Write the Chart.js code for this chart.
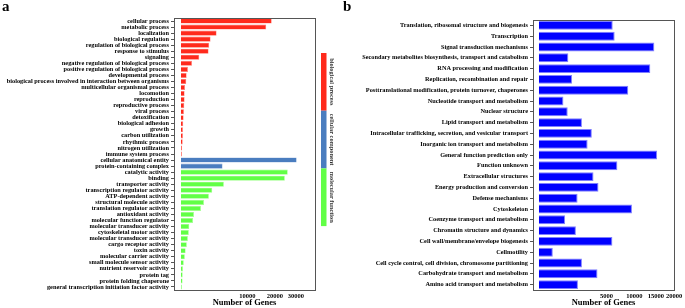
<!DOCTYPE html>
<html>
<head>
<meta charset="utf-8">
<script src="https://cdn.jsdelivr.net/npm/chart.js@4.4.1/dist/chart.umd.min.js"></script>
<style>
  html, body { margin: 0; padding: 0; background: #fff; overflow: hidden; }
  #wrap { position: relative; width: 685px; height: 308px; }
  .painel { position: absolute; top: 0; }
  .letra { position: absolute; font: bold 15px "Liberation Serif", serif; color: #000; }
</style>
</head>
<body>
<div id="wrap">
  <div class="painel" style="left:0;width:340px;height:308px"><canvas id="graficoGO" width="340" height="308"></canvas></div>
  <div class="painel" style="left:340px;width:345px;height:308px"><canvas id="graficoCOG" width="345" height="308"></canvas></div>
  <div class="letra" style="left:2px;top:-2px">a</div>
  <div class="letra" style="left:343px;top:-2px">b</div>
</div>
<script>
// --- dados do painel a (GO) ---
const bpLabels = ['cellular process', 'metabolic process', 'localization', 'biological regulation',
  'regulation of biological process', 'response to stimulus', 'signaling',
  'negative regulation of biological process', 'positive regulation of biological process',
  'developmental process', 'biological process involved in interaction between organisms',
  'multicellular organismal process', 'locomotion', 'reproduction', 'reproductive process',
  'viral process', 'detoxification', 'biological adhesion', 'growth', 'carbon utilization',
  'rhythmic process', 'nitrogen utilization', 'immune system process'];
const bpValues = [18700, 16500, 2880, 1990, 1810, 1730, 760, 275, 110, 73, 64, 36, 30, 30, 25, 20, 16, 12, 9, 9, 7, 3, 2];

const ccLabels = ['cellular anatomical entity', 'protein-containing complex'];
const ccValues = [30400, 3930];

const mfLabels = ['catalytic activity', 'binding', 'transporter activity', 'transcription regulator activity',
  'ATP-dependent activity', 'structural molecule activity', 'translation regulator activity',
  'antioxidant activity', 'molecular function regulator', 'molecular transducer activity',
  'cytoskeletal motor activity', 'molecular transducer activity', 'cargo receptor activity',
  'toxin activity', 'molecular carrier activity', 'small molecule sensor activity',
  'nutrient reservoir activity', 'protein tag', 'protein folding chaperone',
  'general transcription initiation factor activity'];
const mfValues = [25900, 24500, 4180, 2220, 1770, 1200, 905, 380, 326, 156, 140, 108, 78, 50, 34, 18, 9, 7, 6, 2];

const grupos = ['biological process', 'cellular component', 'molecular function'];
const coresGrupo = ['#ff2a1c', '#4a7dbf', '#62ff46'];
const bordasGrupo = ['#ff7a70', '#86a8d6', '#a0ff8c'];
const ticksGO = [10000, 20000, 30000];

// --- dados do painel b (COG) ---
const cogLabels = ['Translation, ribosomal structure and biogenesis', 'Transcription',
  'Signal transduction mechanisms', 'Secondary metabolites biosynthesis, transport and catabolism',
  'RNA processing and modification', 'Replication, recombination and repair',
  'Posttranslational modification, protein turnover, chaperones', 'Nucleotide transport and metabolism',
  'Nuclear structure', 'Lipid transport and metabolism',
  'Intracellular trafficking, secretion, and vesicular transport', 'Inorganic ion transport and metabolism',
  'General function prediction only', 'Function unknown', 'Extracellular structures',
  'Energy production and conversion', 'Defense mechanisms', 'Cytoskeleton',
  'Coenzyme transport and metabolism', 'Chromatin structure and dynamics',
  'Cell wall/membrane/envelope biogenesis', 'Cellmotility',
  'Cell cycle control, cell division, chromosome partitioning',
  'Carbohydrate transport and metabolism', 'Amino acid transport and metabolism'];
const cogValues = [5970, 6290, 14600, 950, 13600, 1200, 8750, 660, 910, 2030, 3070, 2600, 15300,
  6750, 3270, 3890, 1640, 9490, 750, 1500, 5920, 212, 2030, 3760, 1670];
const ticksCOG = [5000, 10000, 15000, 20000];

// escala raiz quadrada (o eixo x da figura original)
const raiz = v => Math.sign(v) * Math.sqrt(Math.abs(v));
class EscalaRaiz extends Chart.LinearScale {
  getPixelForValue(value) {
    const a = raiz(this.min), b = raiz(this.max);
    return this.getPixelForDecimal((raiz(value) - a) / (b - a));
  }
  getValueForPixel(pixel) {
    const a = raiz(this.min), b = raiz(this.max);
    const s = a + this.getDecimalForPixel(pixel) * (b - a);
    return Math.sign(s) * s * s;
  }
}
EscalaRaiz.id = 'raiz';
EscalaRaiz.defaults = Chart.LinearScale.defaults;
Chart.register(EscalaRaiz);

const fonte = 'Liberation Serif';
const corTexto = '#000';

// moldura em volta da área do gráfico
const moldura = {
  id: 'moldura',
  afterDraw(chart) {
    const { ctx, chartArea: c } = chart;
    ctx.save();
    ctx.strokeStyle = '#555';
    ctx.lineWidth = 1;
    ctx.strokeRect(Math.round(c.left) + 0.5, Math.round(c.top) + 0.5,
      Math.round(c.right - c.left), Math.round(c.bottom - c.top));
    ctx.restore();
  }
};

// barra de legenda vertical do painel a
const legendaGrupos = {
  id: 'legendaGrupos',
  afterDraw(chart) {
    const ctx = chart.ctx;
    const topo = 53, alt = 57.7;
    ctx.save();
    grupos.forEach((g, i) => {
      ctx.fillStyle = coresGrupo[i];
      ctx.fillRect(321, topo + i * alt, 5.5, alt);
      ctx.save();
      ctx.translate(332, topo + i * alt + alt / 2);
      ctx.rotate(Math.PI / 2);
      ctx.fillStyle = '#333';
      ctx.font = 'bold 6.3px "' + fonte + '"';
      ctx.textAlign = 'center';
      ctx.textBaseline = 'middle';
      ctx.fillText(g, 0, 0);
      ctx.restore();
    });
    ctx.restore();
  }
};

function opcoes(larguraY, padTop, padRight, xMin, xMax, xTicks) {
  return {
    indexAxis: 'y',
    responsive: false,
    animation: false,
    devicePixelRatio: 1,
    layout: { padding: { top: padTop, right: padRight, bottom: 0, left: 0 } },
    plugins: { legend: { display: false }, tooltip: { enabled: false } },
    scales: {
      x: {
        type: 'raiz',
        min: xMin,
        max: xMax,
        afterBuildTicks: s => { s.ticks = xTicks.map(v => ({ value: v })); },
        afterFit: s => { s.height = 18; },
        grid: { display: false, drawTicks: false },
        border: { display: false },
        ticks: {
          callback: v => String(v),
          font: { family: fonte, weight: 'bold', size: 6.5 },
          color: corTexto, padding: 2, maxRotation: 0, minRotation: 0, autoSkip: false
        },
        title: {
          display: true, text: 'Number of Genes',
          font: { family: fonte, weight: 'bold', size: 8.5 },
          color: corTexto, padding: 0
        }
      },
      y: {
        afterFit: s => { s.width = larguraY; },
        grid: { display: true, drawOnChartArea: false, drawTicks: true, tickLength: 3, color: '#555', offset: false },
        border: { display: false },
        ticks: {
          autoSkip: false,
          font: { family: fonte, weight: 'bold', size: 6.3 },
          color: corTexto, padding: 2
        }
      }
    }
  };
}

// painel a
const labelsGO = bpLabels.concat(ccLabels, mfLabels);
const valoresGO = bpValues.concat(ccValues, mfValues);
const grupoDe = bpLabels.map(() => 0).concat(ccLabels.map(() => 1), mfLabels.map(() => 2));

new Chart(document.getElementById('graficoGO').getContext('2d'), {
  type: 'bar',
  data: {
    labels: labelsGO,
    datasets: [{
      data: valoresGO,
      backgroundColor: grupoDe.map(g => coresGrupo[g]),
      borderColor: grupoDe.map(g => bordasGrupo[g]),
      borderWidth: 0.6,
      barPercentage: 0.84,
      categoryPercentage: 1
    }]
  },
  options: opcoes(174, 18, 25, -110, 40800, ticksGO),
  plugins: [moldura, legendaGrupos]
});

// painel b
new Chart(document.getElementById('graficoCOG').getContext('2d'), {
  type: 'bar',
  data: {
    labels: cogLabels,
    datasets: [{
      data: cogValues,
      backgroundColor: '#0000ff',
      borderColor: '#7f7fff',
      borderWidth: 1,
      barPercentage: 0.82,
      categoryPercentage: 1
    }]
  },
  options: opcoes(193, 20, 11, -38, 20000, ticksCOG),
  plugins: [moldura]
});
</script>
</body>
</html>
